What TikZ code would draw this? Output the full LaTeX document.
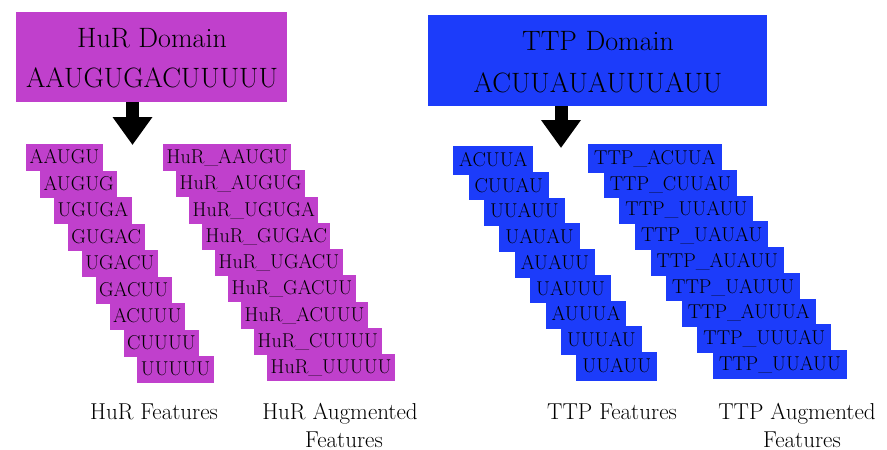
\documentclass[tikz,border=0pt]{standalone}
\usetikzlibrary{arrows.meta}
\definecolor{hurmag}{RGB}{192,64,204}
\definecolor{ttpblue}{RGB}{28,60,250}
\begin{document}
\begin{tikzpicture}[x=1pt,y=-1pt,
  feat/.style={anchor=north west, inner ysep=0pt, text height=14pt, text depth=2pt,
    font=\fontsize{20}{23}\selectfont, text=black},
  hurf/.style={feat, fill=hurmag, inner xsep=3.5pt, minimum height=27pt},
  ttpf/.style={feat, fill=ttpblue, inner xsep=6pt, minimum height=28.5pt},
  dombox/.style={anchor=north west, inner sep=0pt},
  domtitle/.style={anchor=base, font=\fontsize{28}{32}\selectfont},
  domseq/.style={anchor=base, font=\fontsize{28}{32}\selectfont},
  blockarrow/.style={line width=13pt, -{Triangle[width=38pt,length=28pt]}},
  caption/.style={anchor=base, font=\fontsize{23}{28}\selectfont}
]
\useasboundingbox (0,0) rectangle (887,450);

% HuR domain box
\node[dombox, fill=hurmag, minimum width=271pt, minimum height=90pt] (hurbox) at (16,12) {};
\node[domtitle] (hurtitle) at (152,47) {HuR Domain};
\node[domseq] (hurseq) at (152,87) {AAUGUGACUUUUU};

% TTP domain box
\node[dombox, fill=ttpblue, minimum width=339pt, minimum height=91pt] (ttpbox) at (428,15) {};
\node[domtitle] (ttptitle) at (598,50) {TTP Domain};
\node[domseq] (ttpseq) at (598,92) {ACUUAUAUUUAUU};

% arrows
\coordinate (hurA) at (132.5,102);
\coordinate (hurB) at (132.5,145);
\draw[blockarrow] (hurA) -- (hurB);
\coordinate (ttpA) at (561,106);
\coordinate (ttpB) at (561,148);
\draw[blockarrow] (ttpA) -- (ttpB);

% HuR features
\foreach \t [count=\i from 0] in {AAUGU,AUGUG,UGUGA,GUGAC,UGACU,GACUU,ACUUU,CUUUU,UUUUU}{
  \node[hurf] (hf\i) at ({26+13.9*\i},{144+26.5*\i}) {\t};
}
\foreach \t [count=\i from 0] in {AAUGU,AUGUG,UGUGA,GUGAC,UGACU,GACUU,ACUUU,CUUUU,UUUUU}{
  \node[hurf] (ha\i) at ({163+13*\i},{144+26.25*\i}) {HuR\_\t};
}

% TTP features
\foreach \t [count=\i from 0] in {ACUUA,CUUAU,UUAUU,UAUAU,AUAUU,UAUUU,AUUUA,UUUAU,UUAUU}{
  \node[ttpf] (tf\i) at ({453+15.4*\i},{146+25.75*\i}) {\t};
}
\foreach \t [count=\i from 0] in {ACUUA,CUUAU,UUAUU,UAUAU,AUAUU,UAUUU,AUUUA,UUUAU,UUAUU}{
  \node[ttpf] (ta\i) at ({588+15.6*\i},{144+25.75*\i}) {TTP\_\t};
}

% captions
\node[caption] (capHF) at (154,419) {HuR Features};
\node[caption] (capHA1) at (340,419) {HuR Augmented};
\node[caption] (capHA2) at (344,447) {Features};
\node[caption] (capTF) at (612,419) {TTP Features};
\node[caption] (capTA1) at (797,419) {TTP Augmented};
\node[caption] (capTA2) at (802,447) {Features};
\end{tikzpicture}
\end{document}
